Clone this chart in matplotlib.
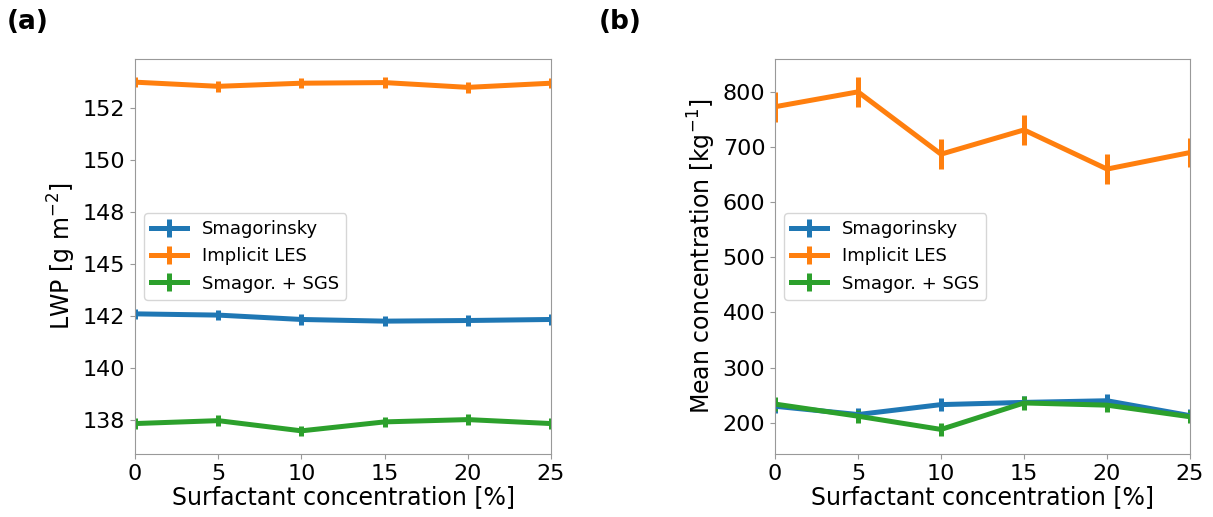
import numpy as np
import matplotlib
matplotlib.use('Agg')
import matplotlib.pyplot as plt
from matplotlib.ticker import MultipleLocator, FormatStrFormatter

# surfactant concentration [%]
conc = [0, 5, 10, 15, 20, 25]
labels = ['Smagorinsky', 'Implicit LES', 'Smagor. + SGS']
colors = ['#1f77b4', '#ff7f0e', '#2ca02c']

# (a) liquid water path
lwp_smag = [142.61, 142.55, 142.34, 142.26, 142.29, 142.34]
lwp_iles = [153.74, 153.54, 153.69, 153.72, 153.49, 153.69]
lwp_sgs = [137.34, 137.48, 136.99, 137.42, 137.53, 137.34]
lwp_err = [0.25, 0.25, 0.25]

# (b) mean concentration
nc_smag = [230, 215, 233, 237, 240, 213]
nc_iles = [773, 800, 687, 731, 660, 690]
nc_sgs = [234, 212, 188, 236, 232, 211]
nc_err = [12, 27, 12]


def draw_panel(ax, series, errs, ylabel):
    for vals, err, lab, c in zip(series, errs, labels, colors):
        ax.errorbar(conc, vals, yerr=err, color=c, lw=3.6, elinewidth=3.6,
                    capsize=0, label=lab)
    ax.set_xlim(0, 25)
    ax.set_xlabel('Surfactant concentration [%]', fontsize=17, labelpad=1)
    ax.set_ylabel(ylabel, fontsize=17, labelpad=3)
    ax.tick_params(labelsize=16, color='#999999')
    for sp in ax.spines.values():
        sp.set_color('#999999')
    ax.legend(loc='center left', fontsize=13, handlelength=2.0)


fig = plt.figure(figsize=(12.13, 5.17), dpi=100)
ax1 = fig.add_axes([135 / 1213, 63 / 517, 416 / 1213, 395 / 517])
ax2 = fig.add_axes([775 / 1213, 63 / 517, 415 / 1213, 395 / 517])

draw_panel(ax1, [lwp_smag, lwp_iles, lwp_sgs], lwp_err, 'LWP [g m$^{-2}$]')
ax1.yaxis.set_major_locator(MultipleLocator(2.5))
ax1.yaxis.set_major_formatter(FormatStrFormatter('%.0f'))

draw_panel(ax2, [nc_smag, nc_iles, nc_sgs], nc_err, 'Mean concentration [kg$^{-1}$]')
ax2.yaxis.set_major_locator(MultipleLocator(100))

fig.text(7 / 1213, 1 - 9 / 517, '(a)', fontsize=19, fontweight='bold', va='top')
fig.text(599 / 1213, 1 - 9 / 517, '(b)', fontsize=19, fontweight='bold', va='top')

fig.savefig('out.png', dpi=100)
